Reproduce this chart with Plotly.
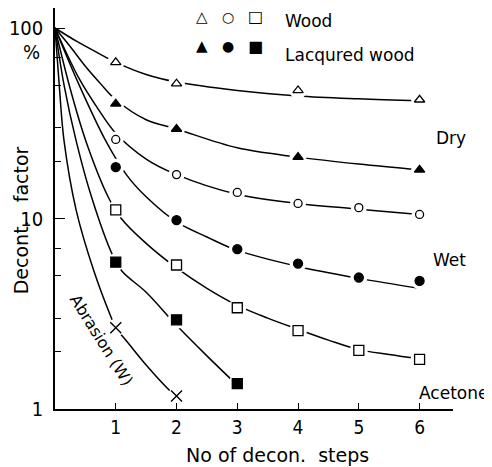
import plotly.graph_objects as go

# ---- measured marker data ----
wood_dry_x = [1, 2, 4, 6]
wood_dry_y = [66, 51, 47, 42]
lacq_dry_x = [1, 2, 4, 6]
lacq_dry_y = [40, 29.5, 21, 18]
wood_wet_x = [1, 2, 3, 4, 5, 6]
wood_wet_y = [26, 17, 13.7, 12, 11.4, 10.5]
lacq_wet_x = [1, 2, 3, 4, 5, 6]
lacq_wet_y = [18.6, 9.8, 6.9, 5.8, 4.9, 4.7]
wood_ace_x = [1, 2, 3, 4, 5, 6]
wood_ace_y = [11.1, 5.7, 3.4, 2.58, 2.03, 1.82]
lacq_ace_x = [1, 2, 3]
lacq_ace_y = [5.9, 2.94, 1.36]
abr_x = [1, 2]
abr_y = [2.67, 1.17]

# ---- fitted curves ----
fit_wood_dry_x = [0, 0.36, 0.81, 1, 1.5, 2, 3, 4, 5, 6]
fit_wood_dry_y = [100, 85, 71, 66, 57, 52, 47, 44, 42.5, 41.5]
fit_lacq_dry_x = [0, 0.25, 0.5, 0.75, 1, 1.5, 2, 3, 4, 5, 6]
fit_lacq_dry_y = [100, 80, 63, 51, 42, 33, 29.5, 23.5, 21, 19.3, 18]
fit_wood_wet_x = [0, 0.4, 0.7, 1, 1.5, 2, 3, 4, 5, 6]
fit_wood_wet_y = [100, 54, 38, 28, 20.5, 17, 13.4, 12, 11.2, 10.5]
fit_lacq_wet_x = [0, 0.4, 0.84, 1.18, 1.5, 2, 2.5, 3, 4, 5, 6]
fit_lacq_wet_y = [100, 50, 25.4, 16.9, 13, 9.6, 8, 6.8, 5.6, 4.85, 4.3]
fit_wood_ace_x = [0, 0.25, 0.51, 0.89, 1.09, 1.5, 2, 2.5, 3, 3.5, 4, 4.5, 5, 5.5, 6]
fit_wood_ace_y = [100, 48, 25.4, 12.7, 10, 7.4, 5.5, 4.3, 3.5, 3.0, 2.62, 2.3, 2.05, 1.93, 1.83]
fit_lacq_ace_x = [0, 0.15, 0.35, 0.6, 0.94, 1.1, 1.5, 2, 2.5, 2.95]
fit_lacq_ace_y = [100, 50, 25.4, 13, 6.5, 5.3, 4.1, 2.75, 1.9, 1.38]
fit_abr_x = [0, 0.07, 0.15, 0.35, 0.64, 0.92, 1, 1.17, 1.5, 1.91, 2]
fit_abr_y = [100, 50, 25.4, 11, 5.3, 3.05, 2.67, 2.29, 1.7, 1.23, 1.17]

x_ticks = [1, 2, 3, 4, 5, 6]
y_ticks = [1, 10, 100]
y_ticktext = ["1", "10", "100"]
y_minor = [2, 3, 5, 7, 20, 30, 50, 70]

FONT = "DejaVu Sans"
TICKFONT = "Liberation Sans Narrow, DejaVu Sans Condensed, DejaVu Sans"

fig = go.Figure()

fits = [
    (fit_wood_dry_x, fit_wood_dry_y),
    (fit_lacq_dry_x, fit_lacq_dry_y),
    (fit_wood_wet_x, fit_wood_wet_y),
    (fit_lacq_wet_x, fit_lacq_wet_y),
    (fit_wood_ace_x, fit_wood_ace_y),
    (fit_lacq_ace_x, fit_lacq_ace_y),
    (fit_abr_x, fit_abr_y),
]
for fx, fy in fits:
    fig.add_trace(go.Scatter(x=fx, y=fy, mode="lines",
                             line=dict(color="black", width=1.5, shape="spline", smoothing=1.0),
                             hoverinfo="skip", showlegend=False))

series = [
    (wood_dry_x, wood_dry_y, "triangle-up", "white", 9),
    (lacq_dry_x, lacq_dry_y, "triangle-up", "black", 9),
    (wood_wet_x, wood_wet_y, "circle", "white", 8),
    (lacq_wet_x, lacq_wet_y, "circle", "black", 9),
    (wood_ace_x, wood_ace_y, "square", "white", 10),
    (lacq_ace_x, lacq_ace_y, "square", "black", 10),
]
# white halos to make gaps in the curves around markers
for sx, sy, sym, fill, size in series + [(abr_x, abr_y, "circle", "white", 10)]:
    fig.add_trace(go.Scatter(x=sx, y=sy, mode="markers",
                             marker=dict(symbol="circle", size=size + 8, color="white",
                                         line=dict(width=0)),
                             hoverinfo="skip", showlegend=False))
for sx, sy, sym, fill, size in series:
    fig.add_trace(go.Scatter(x=sx, y=sy, mode="markers",
                             marker=dict(symbol=sym, size=size, color=fill,
                                         line=dict(color="black", width=1.3)),
                             showlegend=False))
fig.add_trace(go.Scatter(x=abr_x, y=abr_y, mode="markers",
                         marker=dict(symbol="x-thin", size=11, color="black",
                                     line=dict(color="black", width=1.4)),
                         showlegend=False))

# the page body has an 8px default margin, so the figure is 8px smaller than the window
fig.update_layout(
    width=484, height=459,
    margin=dict(l=47, r=39, t=0, b=58, autoexpand=False),
    plot_bgcolor="white", paper_bgcolor="white",
    showlegend=False,
    xaxis=dict(range=[0, 6.55], showgrid=False, zeroline=False, automargin=False,
               showline=True, linecolor="black", linewidth=1.5,
               tickvals=x_ticks, ticks="inside", ticklen=6, tickcolor="black",
               tickfont=dict(family=TICKFONT, size=19, color="black")),
    yaxis=dict(type="log", range=[0, 2.105], showgrid=False, zeroline=False, automargin=False,
               showline=True, linecolor="black", linewidth=1.5,
               tickvals=y_ticks, ticktext=y_ticktext, ticks="inside", ticklen=10,
               tickcolor="black", ticklabelstandoff=6,
               tickfont=dict(family=TICKFONT, size=20, color="black"),
               minor=dict(tickvals=y_minor, ticks="inside", ticklen=6, tickcolor="black")),
)

def ann(text, x, y, size=17, xanchor="center", yanchor="middle", angle=0, family=FONT):
    fig.add_annotation(text=text, x=x, y=y, xref="paper", yref="paper",
                       showarrow=False, xanchor=xanchor, yanchor=yanchor,
                       textangle=angle, font=dict(family=family, size=size, color="black"))

ann("Dry", 0.995, 0.677)
ann("Wet", 0.992, 0.371)
ann("Acetone", 1.093, 0.04, size=17, xanchor="right")
ann("Abrasion (W)", 0.118, 0.172, size=16, angle=58)
ann("△", 0.369, 0.978, size=15)
ann("○", 0.435, 0.978, size=14)
ann("□", 0.503, 0.978, size=16)
ann("Wood", 0.573, 0.968, size=17, xanchor="left")
ann("▲", 0.369, 0.905, size=15)
ann("●", 0.435, 0.905, size=14)
ann("■", 0.503, 0.905, size=16)
ann("Lacqured wood", 0.573, 0.883, size=17, xanchor="left")
ann("%", -0.058, 0.89, size=20, family=TICKFONT)
ann("Decont.   factor", -0.086, 0.47, size=19, angle=-90)
ann("No of decon.  steps", 0.56, -0.115, size=19)

fig.write_html("out.html")
